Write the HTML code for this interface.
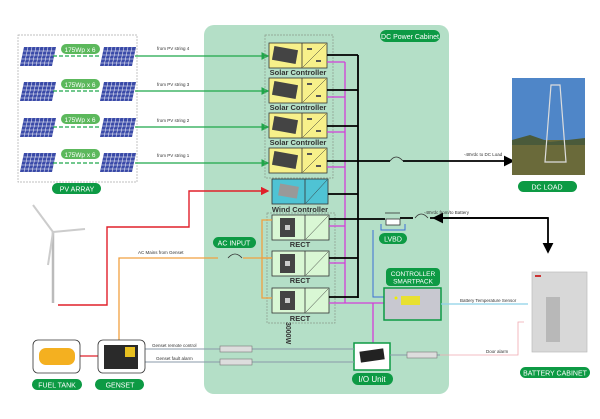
<!DOCTYPE html>
<html><head><meta charset="utf-8"><style>
html,body{margin:0;padding:0;background:#fff;}
svg{display:block;font-family:"Liberation Sans",sans-serif;}
</style></head><body>
<svg width="600" height="419" viewBox="0 0 600 419" xmlns="http://www.w3.org/2000/svg">
<defs>
<marker id="ag" markerWidth="6" markerHeight="6" refX="5" refY="3" orient="auto"><path d="M0,0L6,3L0,6z" fill="#1fa64a"/></marker>
<marker id="ar" markerWidth="6" markerHeight="6" refX="5" refY="3" orient="auto"><path d="M0,0L6,3L0,6z" fill="#e0202a"/></marker>
<marker id="ak" markerWidth="6" markerHeight="6" refX="5" refY="3" orient="auto"><path d="M0,0L6,3L0,6z" fill="#000"/></marker>
<g id="panel"><path d="M4,0H36L32,19H0Z" fill="#3a4aa8"/>
<g stroke="#fff" stroke-width="0.5"><line x1="3.2" y1="4" x2="35.2" y2="4"/><line x1="2.4" y1="8" x2="34.4" y2="8"/><line x1="1.6" y1="12" x2="33.6" y2="12"/><line x1="0.8" y1="16" x2="32.8" y2="16"/>
<line x1="8" y1="0" x2="4" y2="19"/><line x1="12" y1="0" x2="8" y2="19"/><line x1="16" y1="0" x2="12" y2="19"/><line x1="20" y1="0" x2="16" y2="19"/><line x1="24" y1="0" x2="20" y2="19"/><line x1="28" y1="0" x2="24" y2="19"/><line x1="32" y1="0" x2="28" y2="19"/></g></g>
</defs>
<rect x="204" y="25" width="245" height="369" rx="10" fill="#b4dfc7"/>
<rect x="380" y="30" width="60" height="12" rx="6" fill="#0d9a44"/>
<text x="410" y="39" font-size="7" fill="#fff" text-anchor="middle">DC Power Cabinet</text>
<rect x="18" y="35" width="119" height="147" fill="none" stroke="#aaa" stroke-width="0.7" stroke-dasharray="2 1"/>
<g>
<use href="#panel" x="20" y="47"/><use href="#panel" x="100" y="47"/>
<use href="#panel" x="20" y="82"/><use href="#panel" x="100" y="82"/>
<use href="#panel" x="20" y="118"/><use href="#panel" x="100" y="118"/>
<use href="#panel" x="20" y="153"/><use href="#panel" x="100" y="153"/>
</g>
<g stroke="#1fa64a" stroke-width="1.2" stroke-dasharray="4 2"><line x1="53" y1="56" x2="100" y2="56"/><line x1="53" y1="91" x2="100" y2="91"/><line x1="53" y1="127" x2="100" y2="127"/><line x1="53" y1="163" x2="100" y2="163"/></g>
<g fill="#5cb85c"><rect x="61" y="44" width="39" height="10" rx="5"/><rect x="61" y="79" width="39" height="10" rx="5"/><rect x="61" y="114" width="39" height="10" rx="5"/><rect x="61" y="149" width="39" height="10" rx="5"/></g>
<g font-size="6.5" fill="#fff" text-anchor="middle"><text x="80" y="52">175Wp x 6</text><text x="80" y="87">175Wp x 6</text><text x="80" y="122">175Wp x 6</text><text x="80" y="157">175Wp x 6</text></g>
<rect x="52" y="183" width="49" height="11" rx="5.5" fill="#0d9a44"/><text x="77" y="191.5" font-size="7" fill="#fff" text-anchor="middle">PV  ARRAY</text>
<g stroke="#1fa64a" stroke-width="1.3" marker-end="url(#ag)"><line x1="135" y1="56" x2="268" y2="56"/><line x1="135" y1="91" x2="268" y2="91"/><line x1="135" y1="127" x2="268" y2="127"/><line x1="135" y1="163" x2="268" y2="163"/></g>
<g font-size="4.5" fill="#333"><text x="157" y="50">from PV string 4</text><text x="157" y="86">from PV string 3</text><text x="157" y="122">from PV string 2</text><text x="157" y="157">from PV string 1</text></g>
<rect x="265" y="35" width="68" height="143" fill="none" stroke="#8a9a8a" stroke-width="0.7" stroke-dasharray="2 1"/>
<g id="sc"><rect x="269" y="43" width="58" height="25" fill="#f7f08a" stroke="#333" stroke-width="0.8"/><line x1="302" y1="43" x2="302" y2="68" stroke="#333" stroke-width="0.8"/><line x1="303" y1="67" x2="326" y2="44" stroke="#333" stroke-width="0.5"/><rect x="273" y="48" width="24" height="14" fill="#444" transform="rotate(10 285 55)"/><rect x="307" y="48" width="5" height="2" fill="#555"/><rect x="316" y="60" width="5" height="2" fill="#555"/></g>
<use href="#sc" y="35"/><use href="#sc" y="70"/><use href="#sc" y="105"/>
<g font-size="7.5" font-weight="bold" fill="#333" text-anchor="middle"><text x="298" y="75">Solar Controller</text><text x="298" y="110">Solar Controller</text><text x="298" y="145">Solar Controller</text></g>
<rect x="272" y="179" width="56" height="25" fill="#4fc3d4" stroke="#333" stroke-width="0.8"/><line x1="305" y1="179" x2="305" y2="204" stroke="#333" stroke-width="0.8"/><line x1="306" y1="203" x2="327" y2="180" stroke="#333" stroke-width="0.5"/><rect x="279" y="185" width="19" height="12" fill="#999" transform="rotate(10 288 191)"/>
<text x="300" y="212" font-size="7.5" font-weight="bold" fill="#333" text-anchor="middle">Wind Controller</text>
<rect x="267" y="213" width="68" height="110" fill="none" stroke="#8a9a8a" stroke-width="0.7" stroke-dasharray="2 1"/>
<g id="rc"><rect x="272" y="215" width="57" height="25" fill="#d9f7d4" stroke="#333" stroke-width="0.8"/><line x1="305" y1="215" x2="305" y2="240" stroke="#333" stroke-width="0.8"/><line x1="306" y1="239" x2="328" y2="216" stroke="#333" stroke-width="0.5"/><rect x="280" y="218" width="15" height="19" fill="#444"/><rect x="285" y="225" width="5" height="5" fill="#ccc"/></g>
<use href="#rc" y="36"/><use href="#rc" y="73"/>
<g font-size="7.5" font-weight="bold" fill="#333" text-anchor="middle"><text x="300" y="247">RECT</text><text x="300" y="283">RECT</text><text x="300" y="321">RECT</text></g>
<text x="0" y="0" font-size="7" font-weight="bold" fill="#333" transform="translate(286 322) rotate(90)">3000W</text>
<g stroke="#d23fd8" stroke-width="1.3" fill="none"><line x1="345" y1="62" x2="345" y2="303"/><path d="M327,62H345M327,97H345M327,132H345M327,167H345M329,226H345M329,263H345M329,303H384"/><line x1="373" y1="303" x2="373" y2="343"/></g>
<g stroke="#000" stroke-width="1.8" fill="none"><line x1="358" y1="55" x2="358" y2="298"/><path d="M327,55H358M327,90H358M327,126H358M327,161H390M328,194H358M329,219H385M329,258H358M329,297H358"/><path d="M403,161H513" marker-end="url(#ak)"/><path d="M400,218H413"/><path d="M430,218H548V252" marker-end="url(#ak)"/><path d="M548,218H434" marker-end="url(#ak)"/></g>
<g fill="none" stroke="#333" stroke-width="0.8"><path d="M390,161Q396,153 403,161"/><path d="M415,218Q421,210 428,218"/><line x1="385" y1="213" x2="400" y2="213"/><rect x="386" y="219" width="14" height="6" fill="#fff"/></g>
<path d="M381,224V230H405V224" fill="none" stroke="#3b6fd4" stroke-width="1"/>
<path d="M373,230V297H384" fill="none" stroke="#3b6fd4" stroke-width="1"/>
<rect x="379" y="233" width="28" height="11" rx="5.5" fill="#0d9a44"/><text x="393" y="241.5" font-size="7" fill="#fff" text-anchor="middle">LVBD</text>
<text x="424" y="214" font-size="4.5" fill="#333">-48Vdc from/to Battery</text>
<text x="464" y="156" font-size="4.5" fill="#333">-48Vdc to DC Load</text>
<rect x="512" y="78" width="73" height="97" fill="#4f86c8"/><rect x="512" y="140" width="73" height="35" fill="#6a6a3a"/><path d="M512,140L530,135L550,142L585,138V145H512Z" fill="#4a5a3a"/><path d="M551,85L560,85L566,162H545Z" fill="none" stroke="#ddd" stroke-width="1.2"/>
<rect x="518" y="181" width="59" height="11" rx="5.5" fill="#0d9a44"/><text x="547" y="189.5" font-size="7" fill="#fff" text-anchor="middle">DC LOAD</text>
<rect x="386" y="268" width="54" height="18" rx="4" fill="#0d9a44"/><text x="413" y="276" font-size="6.5" fill="#fff" text-anchor="middle">CONTROLLER</text><text x="413" y="283.5" font-size="6.5" fill="#fff" text-anchor="middle">SMARTPACK</text>
<rect x="384" y="288" width="57" height="32" fill="#c8c8d0" stroke="#0d9a44" stroke-width="1.5"/><rect x="401" y="296" width="19" height="9" fill="#e8e030"/><circle cx="396" cy="298" r="1.5" fill="#ee0"/>
<line x1="441" y1="304" x2="528" y2="304" stroke="#8cd0e8" stroke-width="1.3"/><text x="460" y="302" font-size="4.5" fill="#333">Battery Temperature Sensor</text>
<rect x="532" y="272" width="55" height="80" fill="#d8d8d8" stroke="#bbb" stroke-width="0.7"/><rect x="546" y="297" width="14" height="45" fill="#b8b8b8"/><rect x="535" y="275" width="6" height="2" fill="#c33"/>
<rect x="520" y="367" width="70" height="11" rx="5.5" fill="#0d9a44"/><text x="555" y="375.5" font-size="7" fill="#fff" text-anchor="middle">BATTERY CABINET</text>
<path d="M440,355H518V322H524" fill="none" stroke="#f0a8b0" stroke-width="0.8"/><text x="486" y="353" font-size="4.5" fill="#333">Door alarm</text>
<rect x="354" y="343" width="36" height="27" fill="#fff" stroke="#0d9a44" stroke-width="1.5"/><rect x="360" y="350" width="24" height="11" fill="#222" transform="rotate(-8 372 355)"/>
<rect x="352" y="373" width="41" height="12" rx="6" fill="#0d9a44"/><text x="372" y="382" font-size="8" fill="#fff" text-anchor="middle">I/O Unit</text>
<g stroke="#8a9aaa" stroke-width="1"><line x1="145" y1="349" x2="354" y2="349"/><line x1="145" y1="362" x2="354" y2="362"/><line x1="390" y1="355" x2="440" y2="355"/></g>
<g fill="#ddd" stroke="#777" stroke-width="0.6"><rect x="220" y="346" width="32" height="6"/><rect x="220" y="359" width="32" height="6"/><rect x="407" y="352" width="30" height="6"/></g>
<g font-size="4.5" fill="#333"><text x="152" y="347">Genset remote control</text><text x="156" y="360">Genset fault alarm</text><text x="138" y="254">AC Mains from Genset</text></g>
<g stroke="#f0a040" stroke-width="1.3" fill="none"><path d="M119,340V258H218"/><path d="M243,258H272"/><path d="M272,220H262V298H272M262,258H272"/></g>
<path d="M228,258Q235,250 242,258" fill="none" stroke="#333" stroke-width="0.8"/>
<rect x="213" y="237" width="43" height="11" rx="5.5" fill="#0d9a44"/><text x="234" y="245.5" font-size="7" fill="#fff" text-anchor="middle">AC INPUT</text>
<path d="M58,305H107V227H189V191H268" fill="none" stroke="#e0202a" stroke-width="1.4" marker-end="url(#ar)"/>
<line x1="53" y1="232" x2="53" y2="303" stroke="#bbb" stroke-width="2.5"/>
<g stroke="#ccc" stroke-width="2" fill="none"><line x1="53" y1="232" x2="33" y2="205"/><line x1="53" y1="232" x2="85" y2="229"/><line x1="53" y1="232" x2="48" y2="265"/></g>
<line x1="80" y1="356" x2="98" y2="356" stroke="#e0202a" stroke-width="1.2"/>
<rect x="33" y="340" width="47" height="33" rx="5" fill="#fff" stroke="#333" stroke-width="0.8"/><rect x="39" y="348" width="36" height="17" rx="7" fill="#f4b020"/>
<rect x="98" y="340" width="47" height="33" rx="5" fill="#fff" stroke="#333" stroke-width="0.8"/><rect x="104" y="345" width="34" height="24" fill="#2a2a2a"/><rect x="125" y="347" width="10" height="10" fill="#e8c020"/>
<rect x="32" y="379" width="50" height="11" rx="5.5" fill="#0d9a44"/><text x="57" y="387.5" font-size="7" fill="#fff" text-anchor="middle">FUEL TANK</text>
<rect x="95" y="379" width="49" height="11" rx="5.5" fill="#0d9a44"/><text x="120" y="387.5" font-size="7" fill="#fff" text-anchor="middle">GENSET</text>
</svg>
</body></html>
